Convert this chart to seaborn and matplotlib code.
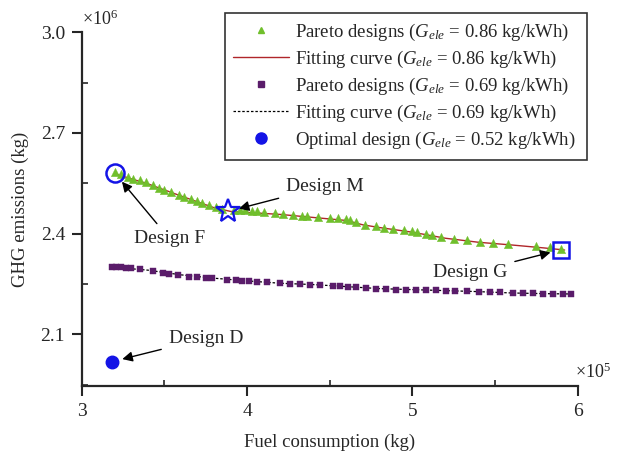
import numpy as np
import pandas as pd
import matplotlib
matplotlib.use("Agg")
import matplotlib.pyplot as plt
import seaborn as sns
from matplotlib.lines import Line2D
from matplotlib.ticker import MultipleLocator, FuncFormatter

# ---- data (fuel in 1e5 kg, GHG in 1e6 kg) ----
p86_fuel = [3.20, 3.24, 3.28, 3.31, 3.35, 3.39, 3.43, 3.47, 3.50, 3.54, 3.59, 3.62, 3.66,
            3.70, 3.73, 3.77, 3.81, 3.85, 3.92, 3.96, 3.99, 4.03, 4.06, 4.10, 4.17, 4.22,
            4.28, 4.33, 4.36, 4.43, 4.50, 4.55, 4.60, 4.62, 4.66, 4.71, 4.78, 4.83, 4.88,
            4.95, 5.00, 5.03, 5.08, 5.12, 5.17, 5.25, 5.33, 5.41, 5.49, 5.58, 5.75, 5.83, 5.90]
p86_ghg = [2.582, 2.576, 2.569, 2.563, 2.559, 2.553, 2.546, 2.537, 2.530, 2.524, 2.516, 2.510,
           2.504, 2.498, 2.492, 2.485, 2.479, 2.472, 2.470, 2.469, 2.469, 2.466, 2.466, 2.463,
           2.461, 2.458, 2.456, 2.453, 2.451, 2.449, 2.447, 2.446, 2.444, 2.439, 2.433, 2.427,
           2.422, 2.418, 2.415, 2.411, 2.408, 2.406, 2.400, 2.396, 2.391, 2.384, 2.380, 2.376,
           2.373, 2.369, 2.362, 2.359, 2.354]

fit86_fuel = [3.20, 3.40, 3.60, 3.80, 3.90, 4.00, 4.20, 4.40, 4.60, 4.70, 4.80, 5.00, 5.20,
              5.40, 5.60, 5.80, 5.92]
fit86_ghg = [2.578, 2.548, 2.512, 2.477, 2.466, 2.463, 2.457, 2.448, 2.439, 2.426, 2.418,
             2.404, 2.386, 2.374, 2.366, 2.357, 2.351]

p69_fuel = [3.18, 3.21, 3.24, 3.27, 3.30, 3.35, 3.43, 3.49, 3.53, 3.58, 3.65, 3.70, 3.75, 3.79,
            3.88, 3.93, 3.97, 4.01, 4.06, 4.12, 4.20, 4.26, 4.32, 4.38, 4.44, 4.52, 4.56, 4.61,
            4.66, 4.72, 4.78, 4.84, 4.90, 4.96, 5.02, 5.08, 5.14, 5.20, 5.26, 5.33, 5.40, 5.47,
            5.53, 5.61, 5.67, 5.73, 5.79, 5.85, 5.91, 5.96]
p69_ghg = [2.300, 2.300, 2.299, 2.298, 2.297, 2.295, 2.289, 2.282, 2.280, 2.278, 2.272, 2.270,
           2.268, 2.267, 2.262, 2.261, 2.260, 2.258, 2.257, 2.255, 2.252, 2.251, 2.250, 2.248,
           2.247, 2.245, 2.243, 2.241, 2.240, 2.238, 2.236, 2.235, 2.233, 2.233, 2.233, 2.232,
           2.231, 2.230, 2.229, 2.228, 2.227, 2.226, 2.225, 2.223, 2.222, 2.222, 2.221, 2.221,
           2.220, 2.220]

fit69_fuel = [3.18, 3.40, 3.60, 3.80, 4.00, 4.20, 4.40, 4.60, 4.80, 5.00, 5.20, 5.40, 5.60,
              5.80, 5.96]
fit69_ghg = [2.300, 2.291, 2.277, 2.267, 2.259, 2.252, 2.248, 2.242, 2.236, 2.233, 2.230,
             2.227, 2.223, 2.221, 2.220]

design_names = ["Design F", "Design M", "Design G", "Design D"]
design_fuel = [3.20, 3.885, 5.90, 3.18]
design_ghg = [2.580, 2.466, 2.352, 2.018]

xticks = [3, 4, 5, 6]
yticks = [2.1, 2.4, 2.7, 3.0]

XS, YS = 1e5, 1e6

df86 = pd.DataFrame({"fuel": np.array(p86_fuel) * XS, "ghg": np.array(p86_ghg) * YS})
dfit86 = pd.DataFrame({"fuel": np.array(fit86_fuel) * XS, "ghg": np.array(fit86_ghg) * YS})
df69 = pd.DataFrame({"fuel": np.array(p69_fuel) * XS, "ghg": np.array(p69_ghg) * YS})
dfit69 = pd.DataFrame({"fuel": np.array(fit69_fuel) * XS, "ghg": np.array(fit69_ghg) * YS})
dd = pd.DataFrame({"name": design_names, "fuel": np.array(design_fuel) * XS,
                   "ghg": np.array(design_ghg) * YS})

sns.set_style("ticks")
plt.rcParams["font.family"] = ["Liberation Serif", "DejaVu Serif"]
plt.rcParams["mathtext.fontset"] = "custom"
plt.rcParams["mathtext.it"] = "Liberation Serif:italic"
plt.rcParams["mathtext.rm"] = "Liberation Serif"

GREEN = "#70bf2c"
RED = "#b0262a"
PURPLE = "#5a1c6a"
BLUE = "#1414e6"

fig = plt.figure(figsize=(6.24, 4.53), dpi=100)
ax = fig.add_axes([0.131, 0.148, 0.795, 0.781])

sns.lineplot(data=dfit86, x="fuel", y="ghg", ax=ax, color=RED, lw=1.0, sort=False, zorder=2)
sns.scatterplot(data=df86, x="fuel", y="ghg", ax=ax, marker="^", s=36, color=GREEN,
                edgecolor=GREEN, linewidth=0.3, zorder=3)
sns.lineplot(data=dfit69, x="fuel", y="ghg", ax=ax, color="black", lw=0.9, ls=(0, (2, 1.5)),
             sort=False, zorder=2)
sns.scatterplot(data=df69, x="fuel", y="ghg", ax=ax, marker="s", s=18, color=PURPLE,
                edgecolor=PURPLE, linewidth=0.3, zorder=3)

# highlighted designs
ax.plot(dd.fuel[0], dd.ghg[0], "o", ms=13, mfc="none", mec=BLUE, mew=1.8, zorder=5)
ax.plot(dd.fuel[1], dd.ghg[1], "*", ms=18, mfc="none", mec=BLUE, mew=1.6, zorder=5)
ax.plot(dd.fuel[2], dd.ghg[2], "s", ms=11, mfc="none", mec=BLUE, mew=1.8, zorder=5)
ax.plot(dd.fuel[3], dd.ghg[3], "o", ms=9, color=BLUE, zorder=5)

arrowprops = dict(arrowstyle="-|>", color="black", lw=1.0, mutation_scale=15,
                  shrinkA=3, shrinkB=8)
fs_ann = 14
ax.annotate("Design F", xy=(dd.fuel[0], dd.ghg[0]), xytext=(3.53e5, 2.385e6),
            ha="center", va="center", fontsize=fs_ann, arrowprops=arrowprops)
ax.annotate("Design M", xy=(dd.fuel[1], dd.ghg[1]), xytext=(4.47e5, 2.541e6),
            ha="center", va="center", fontsize=fs_ann, arrowprops=arrowprops)
ax.annotate("Design G", xy=(dd.fuel[2], dd.ghg[2]), xytext=(5.35e5, 2.283e6),
            ha="center", va="center", fontsize=fs_ann, arrowprops=arrowprops)
ax.annotate("Design D", xy=(dd.fuel[3], dd.ghg[3]), xytext=(3.75e5, 2.088e6),
            ha="center", va="center", fontsize=fs_ann, arrowprops=arrowprops)

ax.set_xlim(3e5, 6e5)
ax.set_ylim(1.946e6, 3.0e6)
ax.set_xticks([t * XS for t in xticks])
ax.set_yticks([t * YS for t in yticks])
ax.xaxis.set_major_formatter(FuncFormatter(lambda v, p: f"{v / XS:.0f}"))
ax.yaxis.set_major_formatter(FuncFormatter(lambda v, p: f"{v / YS:.1f}"))
ax.xaxis.set_minor_locator(MultipleLocator(0.5e5))
ax.yaxis.set_minor_locator(MultipleLocator(0.15e6))
ax.tick_params(which="major", direction="out", length=7, width=1.5, labelsize=14, pad=5)
ax.tick_params(which="minor", direction="in", length=4, width=1.2)
ax.spines["top"].set_visible(False)
ax.spines["right"].set_visible(False)
for s in ["left", "bottom"]:
    ax.spines[s].set_linewidth(1.6)

ax.set_xlabel("Fuel consumption (kg)", fontsize=13.5, labelpad=10)
ax.set_ylabel("GHG emissions (kg)", fontsize=13.5, labelpad=8)

ax.text(0.0, 1.01, r"$\times10^{6}$", transform=ax.transAxes, fontsize=13,
        ha="left", va="bottom")
ax.text(0.995, 0.012, r"$\times10^{5}$", transform=ax.transAxes, fontsize=13,
        ha="left", va="bottom")

handles = [
    Line2D([], [], ls="none", marker="^", ms=5, color=GREEN),
    Line2D([], [], color=RED, lw=1.0),
    Line2D([], [], ls="none", marker="s", ms=4, color=PURPLE),
    Line2D([], [], color="black", lw=0.9, ls=(0, (2, 1.5))),
    Line2D([], [], ls="none", marker="o", ms=8, color=BLUE),
]
labels = [
    r"Pareto designs ($G_{ele}$ = 0.86 kg/kWh)",
    r"Fitting curve ($G_{ele}$ = 0.86 kg/kWh)",
    r"Pareto designs ($G_{ele}$ = 0.69 kg/kWh)",
    r"Fitting curve ($G_{ele}$ = 0.69 kg/kWh)",
    r"Optimal design ($G_{ele}$ = 0.52 kg/kWh)",
]
leg = ax.legend(handles, labels, loc="upper left", bbox_to_anchor=(0.288, 0.0, 0.730, 1.054),
                mode="expand", fontsize=13.5, frameon=True, fancybox=False, edgecolor="black",
                handlelength=3.0, handletextpad=0.3, labelspacing=0.32,
                borderpad=0.45, borderaxespad=0)
leg.get_frame().set_linewidth(1.2)

fig.savefig("out.png", dpi=100)
